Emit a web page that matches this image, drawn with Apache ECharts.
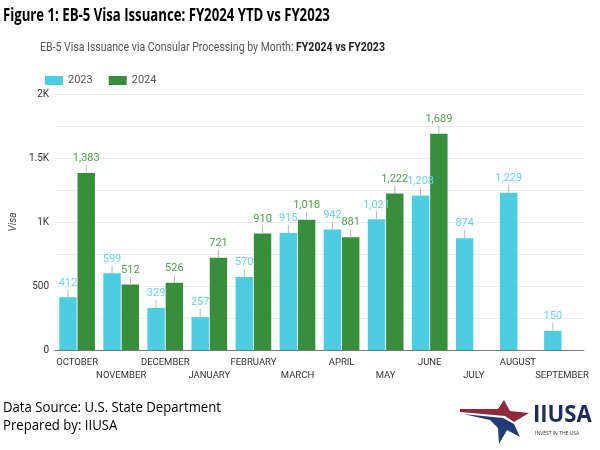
<!DOCTYPE html>
<html><head><meta charset="utf-8">
<script src="https://cdn.jsdelivr.net/npm/echarts@6/dist/echarts.min.js"></script>
<style>html,body{margin:0;padding:0;background:#fff}#c{width:600px;height:450px}</style>
</head><body><div id="c"></div>
<script>
const months = ['OCTOBER','NOVEMBER','DECEMBER','JANUARY','FEBRUARY','MARCH','APRIL','MAY','JUNE','JULY','AUGUST','SEPTEMBER'];
const fy2023 = [412, 599, 329, 257, 570, 915, 942, 1021, 1208, 874, 1229, 150];
const fy2024 = [1383, 512, 526, 721, 910, 1018, 881, 1222, 1689, null, null, null];
const yTicks = {0:'0', 500:'500', 1000:'1K', 1500:'1.5K', 2000:'2K'};

const chart = echarts.init(document.getElementById('c'), null, {renderer:'canvas'});
const fmt = v => Number(v).toLocaleString('en-US');
function lab(color){
  return {
    show:true, position:'top', distance:0,
    formatter: p => '{v|' + fmt(p.value) + '}\n{l|}',
    rich:{
      v:{color:color, fontSize:11, fontFamily:'Roboto', lineHeight:13, align:'center'},
      l:{width:1, height:8, backgroundColor:'#bbb', align:'center'}
    }
  };
}
chart.setOption({
  animation:false,
  textStyle:{fontFamily:'Roboto'},
  grid:{left:48, right:16, top:94, bottom:100},
  legend:{
    left:40, top:70, itemWidth:18, itemHeight:9, itemGap:16,
    textStyle:{fontSize:11, color:'#555', fontFamily:'Roboto'},
    icon:'rect',
    data:['2023','2024']
  },
  xAxis:{
    type:'category', data:months,
    axisLine:{lineStyle:{color:'#777'}},
    axisTick:{show:false},
    axisLabel:{interval:0, fontSize:9.5, color:'#333', margin:6, lineHeight:13,
      formatter:(v,i)=> i%2 ? '\n'+v : v}
  },
  yAxis:{
    type:'value', min:0, max:2000, interval:250,
    name:'Visa', nameLocation:'middle', nameGap:30,
    nameTextStyle:{fontStyle:'italic', fontSize:10, color:'#444'},
    axisLine:{show:false}, axisTick:{show:false},
    axisLabel:{fontSize:10, color:'#333', margin:6, formatter:v=> yTicks[v] !== undefined ? yTicks[v] : ''},
    splitLine:{lineStyle:{color:'#eeeeee'}}
  },
  series:[
    {name:'2023', type:'bar', data:fy2023, barGap:'5%', barCategoryGap:'19%',
     itemStyle:{color:'#4dcde2'}, label:lab('#6fd3e6')},
    {name:'2024', type:'bar', data:fy2024,
     itemStyle:{color:'#388e3c'}, label:lab('#4f9e4f')}
  ],
  graphic:[
    {type:'text', x:3, y:8, scaleX:0.775, style:{text:'Figure 1: EB-5 Visa Issuance: FY2024 YTD vs FY2023', font:'bold 17px "Open Sans", sans-serif', fill:'#000', textVerticalAlign:'top'}},
    {type:'text', x:40, y:41, scaleX:0.81, style:{
      text:'{a|EB-5 Visa Issuance via Consular Processing by Month: }{b|FY2024 vs FY2023}', textVerticalAlign:'top',
      rich:{a:{fontSize:13, fontFamily:'Roboto', fill:'#555', color:'#555'}, b:{fontSize:13, fontFamily:'Roboto', fontWeight:'bold', fill:'#222', color:'#222'}}}},
    {type:'text', x:3, y:401, scaleX:0.94, style:{text:'Data Source: U.S. State Department', font:'14px "Open Sans", sans-serif', fill:'#000', textVerticalAlign:'top'}},
    {type:'text', x:3, y:419, scaleX:0.94, style:{text:'Prepared by: IIUSA', font:'14px "Open Sans", sans-serif', fill:'#000', textVerticalAlign:'top'}},
    {type:'polygon', shape:{points:[[460,409],[498,409],[504,400],[510,411],[529,413],[514,422],[505,416],[460,412]]}, style:{fill:'#8e2a3a'}},
    {type:'polygon', shape:{points:[[463,414],[503,418],[514,424],[520,437],[507,430],[499,444],[498,428],[490,420]]}, style:{fill:'#233b74'}},
    {type:'text', x:533, y:403, scaleX:0.92, style:{text:'IIUSA', font:'bold 24px "Open Sans", sans-serif', fill:'#1f2d5c', textVerticalAlign:'top'}},
    {type:'text', x:535, y:431, style:{text:'INVEST IN THE USA', font:'5px "Open Sans", sans-serif', fill:'#333', textVerticalAlign:'top'}}
  ]
});
</script></body></html>
